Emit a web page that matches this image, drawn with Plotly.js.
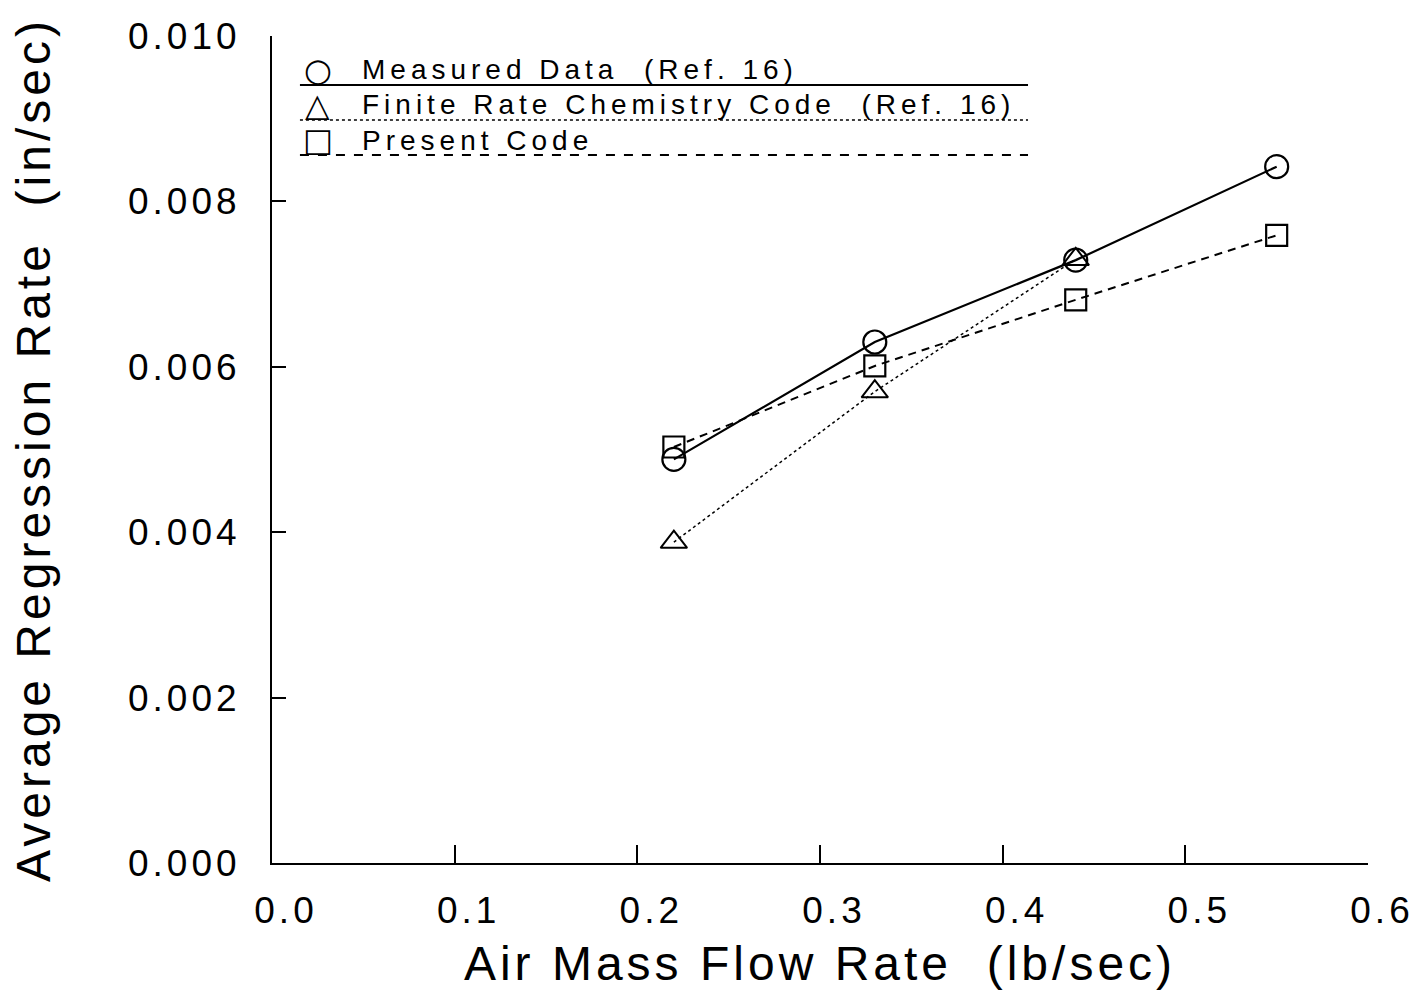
<!DOCTYPE html>
<html>
<head>
<meta charset="utf-8">
<script src="https://cdn.plot.ly/plotly-3.0.1.min.js"></script>
<style>
  html, body { margin: 0; padding: 0; background: #fff; }
  #chart { width: 1426px; height: 991px; }
  .xtick text, .ytick text { letter-spacing: 4px; }
  .g-xtitle text, .g-ytitle text { letter-spacing: 4px; }
  .annotation-text { letter-spacing: 5px; }
</style>
</head>
<body>
<div id="chart"></div>
<script>
// Data
const airFlow = [0.22, 0.33, 0.44, 0.55];
const measured = [0.00488, 0.00630, 0.00729, 0.00842];
const finiteAirFlow = [0.22, 0.33, 0.44];
const finiteRate = [0.00388, 0.00570, 0.00730];
const presentCode = [0.00503, 0.00601, 0.00681, 0.00759];

const xTickVals = [0, 0.1, 0.2, 0.3, 0.4, 0.5, 0.6];
const xTickText = ['0.0', '0.1', '0.2', '0.3', '0.4', '0.5', '0.6'];
const yTickVals = [0, 0.002, 0.004, 0.006, 0.008, 0.010];
const yTickText = ['0.000', '0.002', '0.004', '0.006', '0.008', '0.010'];

const legendNames = ['Measured Data  (Ref. 16)', 'Finite Rate Chemistry Code  (Ref. 16)', 'Present Code'];
const legendSymbols = ['○', '△', '□'];

const FONT = 'Liberation Sans, Arial, sans-serif';

const traces = [
  {
    x: airFlow, y: measured, type: 'scatter', mode: 'lines+markers',
    name: legendNames[0],
    line: {color: '#000', width: 2.2, dash: 'solid'},
    marker: {symbol: 'circle-open', size: 23, color: '#000', line: {width: 2.2, color: '#000'}}
  },
  {
    x: finiteAirFlow, y: finiteRate, type: 'scatter', mode: 'lines+markers',
    name: legendNames[1],
    line: {color: '#000', width: 1.5, dash: 'dot'},
    marker: {symbol: 'triangle-up-open', size: 23, color: '#000', line: {width: 2, color: '#000'}}
  },
  {
    x: airFlow, y: presentCode, type: 'scatter', mode: 'lines+markers',
    name: legendNames[2],
    line: {color: '#000', width: 2, dash: '8px,6px'},
    marker: {symbol: 'square-open', size: 21, color: '#000', line: {width: 2.2, color: '#000'}}
  }
];

// legend drawn as annotations + line shapes (paper coordinates)
const legendRowsY = [0.959, 0.917, 0.874];
const legendLineY = [0.9407, 0.8984, 0.8561];
const legendDash = ['solid', 'dot', 'dash'];
const annotations = [];
const shapes = [];
for (let i = 0; i < legendNames.length; i++) {
  annotations.push({
    xref: 'paper', yref: 'paper', x: 0.044, y: legendRowsY[i],
    text: legendSymbols[i], showarrow: false, xanchor: 'center', yanchor: 'middle',
    font: {family: 'DejaVu Sans, sans-serif', size: 32, color: '#000'}
  });
  annotations.push({
    xref: 'paper', yref: 'paper', x: 0.080, y: legendRowsY[i],
    text: legendNames[i], showarrow: false, xanchor: 'left', yanchor: 'middle',
    font: {family: FONT, size: 28, color: '#000'}
  });
  shapes.push({
    type: 'line', xref: 'paper', yref: 'paper',
    x0: 0.0255, x1: 0.6898, y0: legendLineY[i], y1: legendLineY[i],
    line: {color: '#000', width: i === 1 ? 1.5 : 2, dash: legendDash[i]}
  });
}

const layout = {
  width: 1426, height: 991,
  paper_bgcolor: '#fff', plot_bgcolor: '#fff',
  margin: {l: 272, r: 58, t: 36, b: 128},
  showlegend: false,
  font: {family: FONT, color: '#000'},
  xaxis: {
    range: [0, 0.6], tickvals: xTickVals, ticktext: xTickText,
    showline: true, linecolor: '#000', linewidth: 2,
    ticks: 'inside', ticklen: 18, tickwidth: 2, tickcolor: '#000',
    showgrid: false, zeroline: false,
    tickfont: {family: FONT, size: 37, color: '#000'},
    ticklabelstandoff: 14, ticklabelshift: 14,
    title: {text: 'Air Mass Flow Rate  (lb/sec)', font: {family: FONT, size: 48, color: '#000'}, standoff: 16}
  },
  yaxis: {
    range: [0, 0.010], tickvals: yTickVals, ticktext: yTickText,
    showline: true, linecolor: '#000', linewidth: 2,
    ticks: 'inside', ticklen: 14, tickwidth: 2, tickcolor: '#000',
    showgrid: false, zeroline: false,
    tickfont: {family: FONT, size: 37, color: '#000'},
    ticklabelstandoff: 22,
    title: {text: 'Average Regression Rate  (in/sec)', font: {family: FONT, size: 48, color: '#000'}, standoff: 62}
  },
  annotations: annotations,
  shapes: shapes
};

Plotly.newPlot('chart', traces, layout, {displayModeBar: false, staticPlot: true});
</script>
</body>
</html>
